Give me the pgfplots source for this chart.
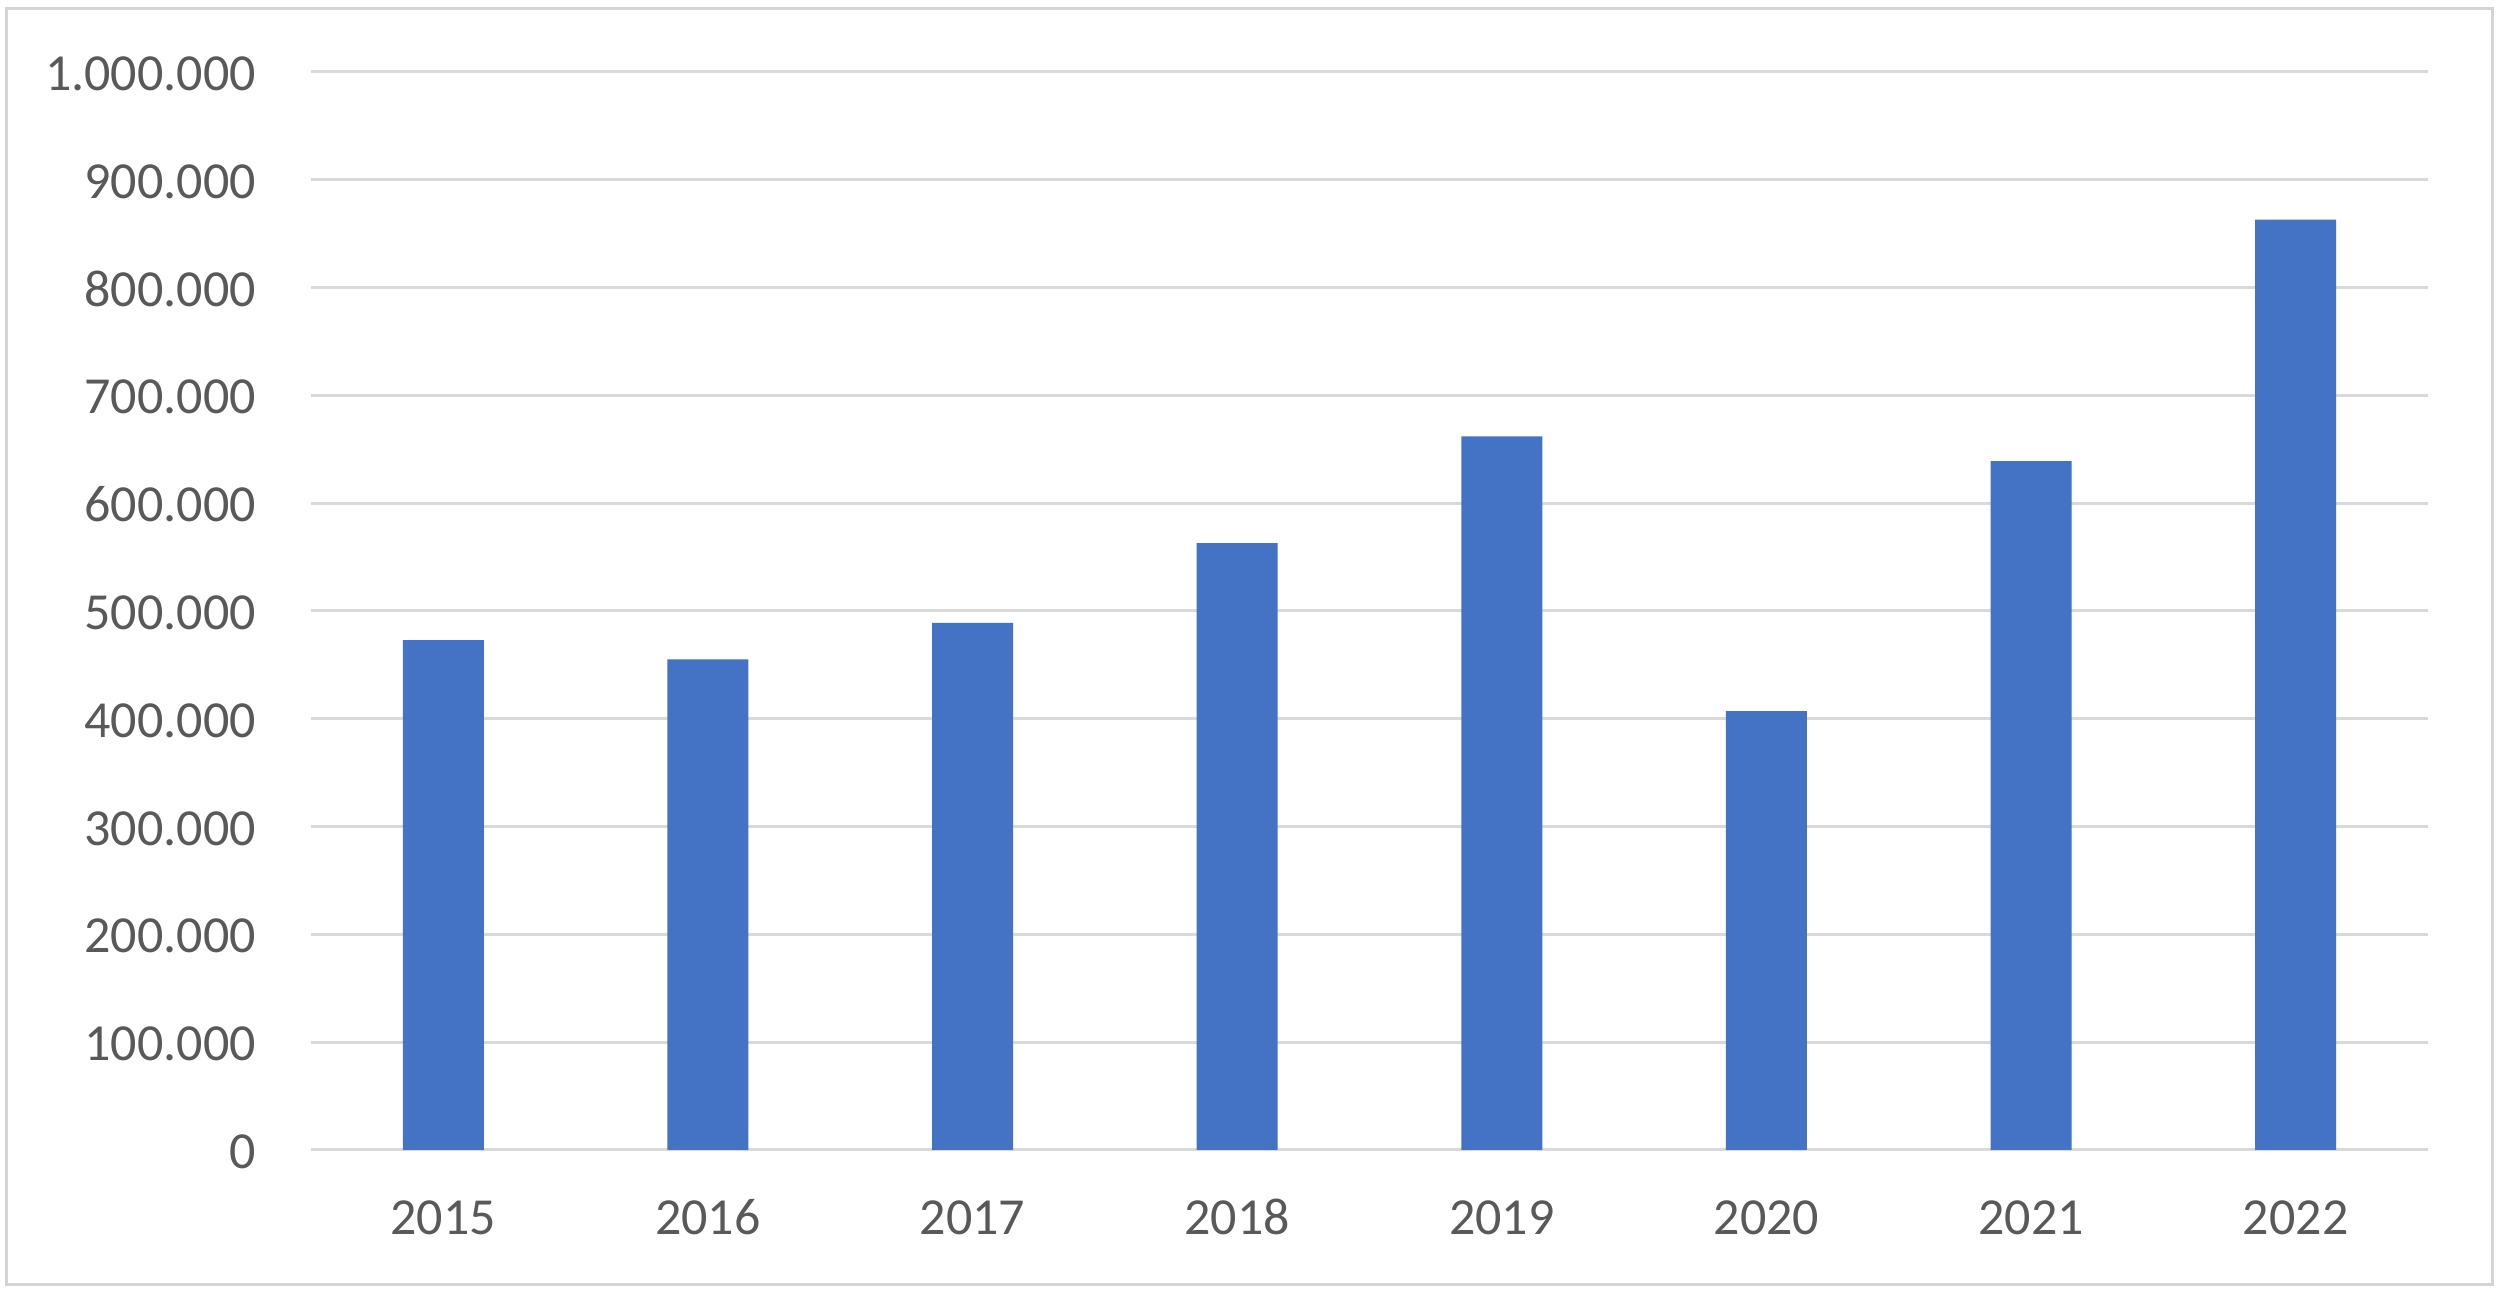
\documentclass[border=0pt]{standalone}
\usepackage{fontspec}
\setmainfont{Carlito}
\usepackage{pgfplots}
\pgfplotsset{compat=1.18}
\definecolor{BarBlue}{HTML}{4472C4}
\definecolor{GridGray}{HTML}{D9D9D9}
\definecolor{LabelGray}{HTML}{595959}
\definecolor{FrameGray}{HTML}{D4D4D4}

\begin{document}
\begin{tikzpicture}
% picture canvas and outer frame (axis box corner sits at the origin)
\useasboundingbox[fill=white] (-62.2pt,-29pt) rectangle (437.8pt,230pt);
\draw[FrameGray, line width=0.6pt] (-60.8pt,-27pt) rectangle (436.2pt,228.2pt);
\begin{axis}[
  at={(0,0)}, anchor=south west,
  scale only axis,
  width=423.4pt, height=215.6pt,
  xmin=-0.5, xmax=7.5,
  ymin=0, ymax=1000000,
  ytick={0,100000,...,1000000},
  xtick=data,
  xticklabels={2015,2016,2017,2018,2019,2020,2021,2022},
  scaled y ticks=false,
  /pgf/number format/.cd, fixed, 1000 sep={.}, assume math mode=true,
  /pgfplots/.cd,
  axis line style={draw=none},
  major tick length=0pt,
  ymajorgrids=true,
  major grid style={draw=GridGray, line width=0.6pt},
  typeset ticklabels with strut,
  yticklabel style={font=\fontsize{10.4}{12}\selectfont, text=LabelGray, xshift=-7.5pt, yshift=-1.3pt},
  xticklabel style={font=\fontsize{10.4}{12}\selectfont, text=LabelGray, yshift=-5pt},
]
\addplot[ybar, bar width=16.2pt, draw=none, fill=BarBlue] coordinates {
  (0,473000) (1,455000) (2,489000) (3,563000)
  (4,662000) (5,407000) (6,639000) (7,863000)
};
\end{axis}
\end{tikzpicture}
\end{document}
